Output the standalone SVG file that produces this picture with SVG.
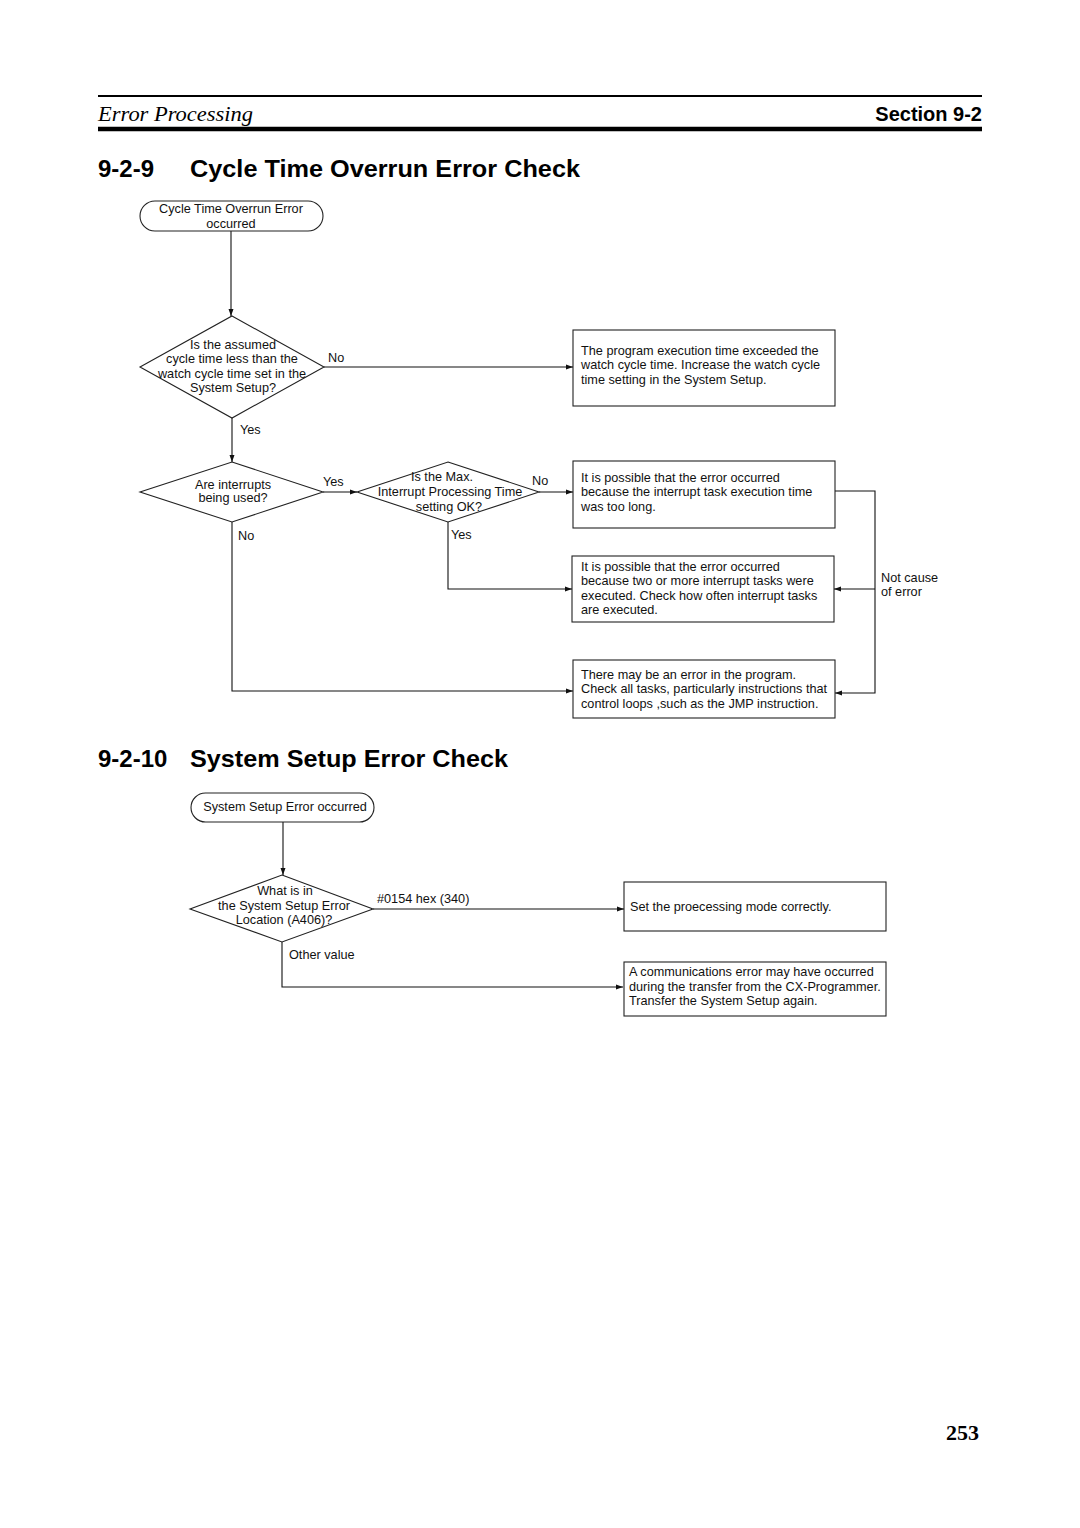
<svg xmlns="http://www.w3.org/2000/svg" width="1080" height="1528" viewBox="0 0 1080 1528">
<defs>
<marker id="arr" markerUnits="userSpaceOnUse" markerWidth="8" markerHeight="6" refX="7" refY="3" orient="auto">
<path d="M0,0.5 L7,3 L0,5.5 Z" fill="#111"/>
</marker>
<style>
.t{font-family:"Liberation Sans",Arial,sans-serif;font-size:12.7px;fill:#111}
.c{text-anchor:middle}
.box{fill:#fff;stroke:#222;stroke-width:1.1}
.ln{fill:none;stroke:#111;stroke-width:1.1}
.ar{marker-end:url(#arr)}
.h{font-family:"Liberation Sans",Arial,sans-serif;font-weight:bold;fill:#000}
</style>
</defs>
<rect width="1080" height="1528" fill="#fff"/>
<g id="header">
<line x1="98" y1="96" x2="982" y2="96" stroke="#000" stroke-width="2"/>
<text x="98" y="121" font-family="Liberation Serif,serif" font-style="italic" font-size="22" fill="#000" textLength="155" lengthAdjust="spacingAndGlyphs">Error Processing</text>
<text x="982" y="121" class="h" font-size="20" text-anchor="end">Section 9-2</text>
<line x1="98" y1="129" x2="982" y2="129" stroke="#000" stroke-width="4.5"/>
</g>
<g id="title1">
<text x="98" y="177" class="h" font-size="24">9-2-9</text>
<text x="190" y="177" class="h" font-size="24" textLength="390" lengthAdjust="spacingAndGlyphs">Cycle Time Overrun Error Check</text>
</g>
<g id="title2">
<text x="98" y="767" class="h" font-size="24">9-2-10</text>
<text x="190" y="767" class="h" font-size="24" textLength="318" lengthAdjust="spacingAndGlyphs">System Setup Error Check</text>
</g>

<g id="connectors">
<path class="ln ar" d="M231,231 V316"/>
<path class="ln ar" d="M324,367 H573"/>
<path class="ln ar" d="M232,418 V462"/>
<path class="ln ar" d="M323,492 H357"/>
<path class="ln ar" d="M539,492 H573"/>
<path class="ln ar" d="M232,522 V691 H573"/>
<path class="ln ar" d="M448,522 V589 H572"/>
<path class="ln ar" d="M835,491 H875 V693 H835"/>
<path class="ln ar" d="M875,589 H834"/>
<path class="ln ar" d="M283,822 V875"/>
<path class="ln ar" d="M373,909 H624"/>
<path class="ln ar" d="M282,942 V987 H623"/>
<text class="t" x="328" y="362">No</text>
<text class="t" x="240" y="434">Yes</text>
<text class="t" x="323" y="486">Yes</text>
<text class="t" x="532" y="485">No</text>
<text class="t" x="238" y="540">No</text>
<text class="t" x="451" y="539">Yes</text>
<text class="t" x="881" y="582">Not cause</text>
<text class="t" x="881" y="596">of error</text>
<text class="t" x="377" y="903">#0154 hex (340)</text>
<text class="t" x="289" y="959">Other value</text>
</g>

<g id="start1">
<rect class="box" x="140" y="201" width="183" height="30" rx="15" ry="15"/>
<text class="t c" x="231" y="213">Cycle Time Overrun Error</text>
<text class="t c" x="231" y="228">occurred</text>
</g>
<g id="dec1">
<polygon class="box" points="232,316 324,367 232,418 140,367"/>
<text class="t c" x="233" y="349">Is the assumed</text>
<text class="t c" x="232" y="363">cycle time less than the</text>
<text class="t c" x="232" y="378">watch cycle time set in the</text>
<text class="t c" x="233" y="392">System Setup?</text>
</g>
<g id="box1">
<rect class="box" x="573" y="330" width="262" height="76"/>
<text class="t" x="581" y="355">The program execution time exceeded the</text>
<text class="t" x="581" y="369">watch cycle time. Increase the watch cycle</text>
<text class="t" x="581" y="384">time setting in the System Setup.</text>
</g>
<g id="dec2">
<polygon class="box" points="232,462 323,492 232,522 140,492"/>
<text class="t c" x="233" y="489">Are interrupts</text>
<text class="t c" x="233" y="502">being used?</text>
</g>
<g id="dec3">
<polygon class="box" points="448,462 539,492 448,522 357,492"/>
<text class="t c" x="442" y="481">Is the Max.</text>
<text class="t c" x="450" y="496">Interrupt Processing Time</text>
<text class="t c" x="449" y="511">setting OK?</text>
</g>
<g id="box2">
<rect class="box" x="573" y="461" width="262" height="67"/>
<text class="t" x="581" y="482">It is possible that the error occurred</text>
<text class="t" x="581" y="496">because the interrupt task execution time</text>
<text class="t" x="581" y="511">was too long.</text>
</g>
<g id="box3">
<rect class="box" x="572" y="556" width="262" height="66"/>
<text class="t" x="581" y="571">It is possible that the error occurred</text>
<text class="t" x="581" y="585">because two or more interrupt tasks were</text>
<text class="t" x="581" y="600">executed. Check how often interrupt tasks</text>
<text class="t" x="581" y="614">are executed.</text>
</g>
<g id="box4">
<rect class="box" x="573" y="660" width="262" height="58"/>
<text class="t" x="581" y="679">There may be an error in the program.</text>
<text class="t" x="581" y="693">Check all tasks, particularly instructions that</text>
<text class="t" x="581" y="708">control loops ,such as the JMP instruction.</text>
</g>

<g id="start2">
<rect class="box" x="191" y="793" width="183" height="29" rx="14.5" ry="14.5"/>
<text class="t c" x="285" y="811">System Setup Error occurred</text>
</g>
<g id="dec4">
<polygon class="box" points="282,875 373,909 282,942 190,909"/>
<text class="t c" x="285" y="895">What is in</text>
<text class="t c" x="284" y="910">the System Setup Error</text>
<text class="t c" x="284" y="924">Location (A406)?</text>
</g>
<g id="box5">
<rect class="box" x="624" y="882" width="262" height="49"/>
<text class="t" x="630" y="911">Set the proecessing mode correctly.</text>
</g>
<g id="box6">
<rect class="box" x="624" y="962" width="262" height="54"/>
<text class="t" x="629" y="976">A communications error may have occurred</text>
<text class="t" x="629" y="991">during the transfer from the CX-Programmer.</text>
<text class="t" x="629" y="1005">Transfer the System Setup again.</text>
</g>

<g id="footer">
<text x="979" y="1440" font-family="Liberation Serif,serif" font-weight="bold" font-size="22" text-anchor="end" fill="#000">253</text>
</g>
</svg>
